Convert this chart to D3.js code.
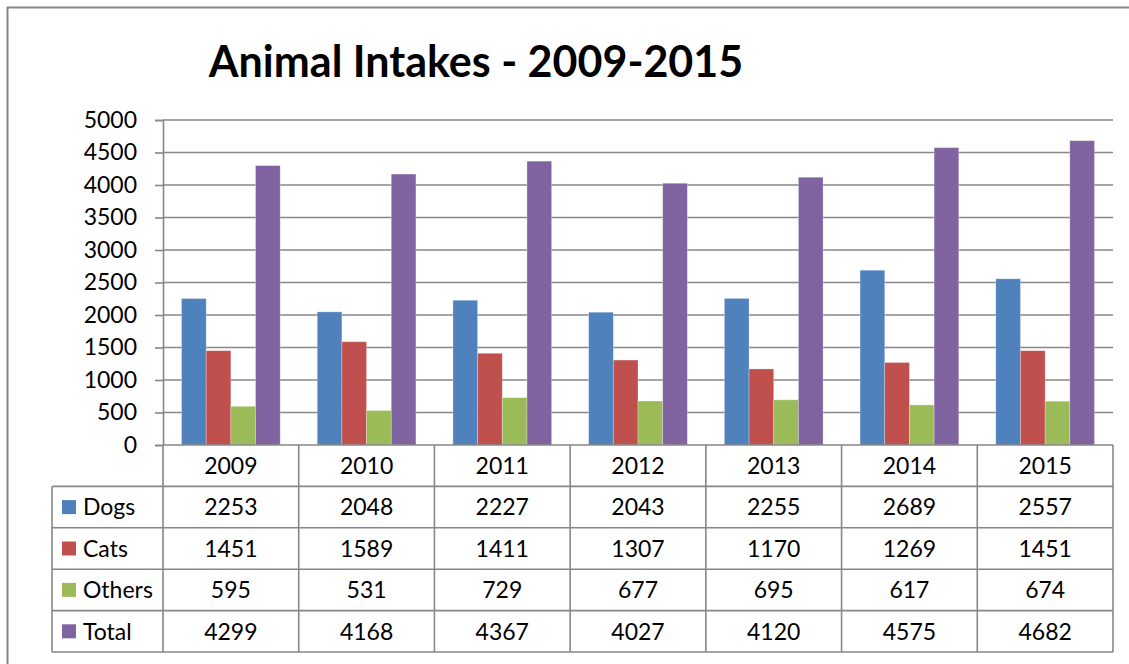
<!DOCTYPE html>
<html>
<head>
<meta charset="utf-8">
<script src="https://cdn.jsdelivr.net/npm/d3@7"></script>
<style>
  html, body { margin: 0; padding: 0; background: #fff; overflow: hidden; }
  svg { display: block; }
  text { font-family: Lato, "Open Sans", sans-serif; fill: #000; }
</style>
</head>
<body>
<svg id="chart" width="1129" height="664"></svg>
<script>
const title = "Animal Intakes - 2009-2015";
const years = ["2009", "2010", "2011", "2012", "2013", "2014", "2015"];
const seriesNames = ["Dogs", "Cats", "Others", "Total"];
const dogs   = [2253, 2048, 2227, 2043, 2255, 2689, 2557];
const cats   = [1451, 1589, 1411, 1307, 1170, 1269, 1451];
const others = [595, 531, 729, 677, 695, 617, 674];
const total  = [4299, 4168, 4367, 4027, 4120, 4575, 4682];
const yTicks = [0, 500, 1000, 1500, 2000, 2500, 3000, 3500, 4000, 4500, 5000];
const colors = ["#4F81BD", "#C0504D", "#9BBB59", "#8064A2"];

const seriesValues = [dogs, cats, others, total];
const series = seriesNames.map((name, i) => ({ name, values: seriesValues[i], color: colors[i] }));

const svg = d3.select("#chart");
const gridColor = "#878787";
const fs = "23px";

// outer chart frame
svg.append("rect")
  .attr("x", 7.5).attr("y", 7.5)
  .attr("width", 1140).attr("height", 680)
  .attr("fill", "none").attr("stroke", gridColor).attr("stroke-width", 2);

// title
svg.append("text")
  .attr("x", 476).attr("y", 77)
  .attr("text-anchor", "middle")
  .style("font-size", "43px").style("font-weight", "bold")
  .text(title);

const plotLeft = 163, plotRight = 1113, plotTop = 120, plotBottom = 445;

const y = d3.scaleLinear().domain([0, 5000]).range([plotBottom, plotTop]);
const x = d3.scaleBand().domain(years).range([plotLeft, plotRight]).paddingInner(0).paddingOuter(0);
const xs = d3.scaleBand().domain(seriesNames).range([0, x.bandwidth()]).paddingInner(0).paddingOuter(0.75);

// gridlines
svg.append("g").selectAll("line").data(yTicks.filter(d => d > 0)).join("line")
  .attr("x1", plotLeft).attr("x2", plotRight)
  .attr("y1", d => y(d)).attr("y2", d => y(d))
  .attr("stroke", gridColor).attr("stroke-width", 1.6);

// y axis
const yAxis = d3.axisLeft(y).tickValues(yTicks).tickSize(8).tickPadding(18).tickFormat(d3.format("d"));
const gy = svg.append("g").attr("transform", `translate(${plotLeft},0)`).call(yAxis);
gy.select(".domain").attr("stroke", gridColor).attr("stroke-width", 1.6);
gy.selectAll(".tick line").attr("stroke", gridColor).attr("stroke-width", 1.6);
gy.selectAll(".tick text").style("font-size", fs).attr("fill", "#000").attr("font-family", null);

// bars
const groups = svg.append("g").selectAll("g").data(series).join("g");
groups.selectAll("rect").data(s => s.values.map((v, i) => ({ v, year: years[i], s }))).join("rect")
  .attr("x", d => x(d.year) + xs(d.s.name))
  .attr("y", d => y(d.v))
  .attr("width", xs.bandwidth())
  .attr("height", d => y(0) - y(d.v))
  .attr("fill", d => d.s.color)
  .attr("stroke", "#ffffff").attr("stroke-opacity", 0.35).attr("stroke-width", 0.8);

// data table
const tableLeft = 52;
const rowH = (652 - plotBottom) / 5;
const tbl = svg.append("g");
const lineAttr = sel => sel.attr("stroke", gridColor).attr("stroke-width", 1.6).attr("fill", "none");

const hLines = [0, 1, 2, 3, 4, 5];
tbl.selectAll("line.h").data(hLines).join("line").attr("class", "h")
  .attr("x1", d => d === 0 ? plotLeft : tableLeft).attr("x2", plotRight)
  .attr("y1", d => plotBottom + d * rowH).attr("y2", d => plotBottom + d * rowH)
  .call(lineAttr);
const vBounds = years.map(yv => x(yv)).concat([plotRight]);
tbl.selectAll("line.v").data(vBounds).join("line").attr("class", "v")
  .attr("x1", d => d).attr("x2", d => d)
  .attr("y1", plotBottom).attr("y2", plotBottom + 5 * rowH)
  .call(lineAttr);
tbl.append("line")
  .attr("x1", tableLeft).attr("x2", tableLeft)
  .attr("y1", plotBottom + rowH).attr("y2", plotBottom + 5 * rowH)
  .call(lineAttr);

tbl.selectAll("text.yr").data(years).join("text").attr("class", "yr")
  .attr("x", d => x(d) + x.bandwidth() / 2)
  .attr("y", plotBottom + rowH / 2)
  .attr("dy", "0.36em")
  .attr("text-anchor", "middle")
  .style("font-size", fs)
  .text(d => d);

series.forEach((s, r) => {
  const cy = plotBottom + (r + 1) * rowH + rowH / 2;
  tbl.append("rect")
    .attr("x", 62).attr("y", cy - 7)
    .attr("width", 14).attr("height", 14)
    .attr("fill", s.color);
  tbl.append("text")
    .attr("x", 83).attr("y", cy).attr("dy", "0.36em")
    .style("font-size", fs)
    .text(s.name);
  tbl.selectAll(null).data(s.values).join("text")
    .attr("x", (d, i) => x(years[i]) + x.bandwidth() / 2)
    .attr("y", cy).attr("dy", "0.36em")
    .attr("text-anchor", "middle")
    .style("font-size", fs)
    .text(d => d);
});
</script>
</body>
</html>
